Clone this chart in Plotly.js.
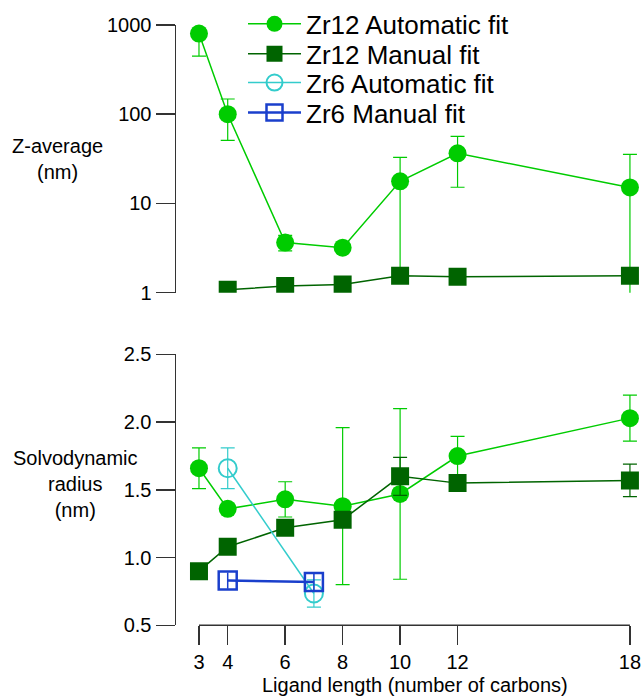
<!DOCTYPE html>
<html>
<head>
<meta charset="utf-8">
<script src="https://cdn.plot.ly/plotly-3.0.1.min.js"></script>
<style>html,body{margin:0;padding:0;background:#fff;}#chart{width:643px;height:698px;}</style>
</head>
<body>
<div id="chart"></div>
<script>
// ---- data ----
var ligandLength = [3, 4, 6, 8, 10, 12, 18];

// Z-average (nm), top panel
var zavgAuto = [800, 100, 3.65, 3.2, 17.7, 36.5, 15.1];
var zavgAutoErrPlus = [340, 48, 0.75, 0, 15.2, 20, 20.4];
var zavgAutoErrMinus = [353, 49, 0.7, 0, 16.2, 21.3, 14.2];
var zavgManual = [null, 1.08, 1.19, 1.24, 1.55, 1.51, 1.55];

// Solvodynamic radius (nm), bottom panel
var radAuto = [1.66, 1.36, 1.43, 1.38, 1.47, 1.75, 2.03];
var radAutoErr = [0.15, 0, 0.13, 0.58, 0.63, 0.145, 0.17];
var radManual = [0.9, 1.08, 1.22, 1.28, 1.6, 1.55, 1.57];
var radManualErr = [0, 0, 0, 0, 0.14, 0, 0.12];

var zr6Length = [4, 7];
var zr6Auto = [1.66, 0.735];
var zr6AutoErr = [0.15, 0.10];
var zr6Manual = [0.83, 0.82];
var zr6ManualErr = [0.06, 0.06];

var seriesNames = ['Zr12 Automatic fit', 'Zr12 Manual fit', 'Zr6 Automatic fit', 'Zr6 Manual fit'];
var xTickVals = [3, 4, 6, 8, 10, 12, 18];
var topTickVals = [1, 10, 100, 1000];
var topTickText = ['1', '10', '100', '1000'];
var bottomTickVals = [0.5, 1.0, 1.5, 2.0, 2.5];

// ---- styling ----
var cAuto = '#00cc00', cManual = '#006400', cZr6A = '#33cccc', cZr6M = '#1a3fcc';
var FONT = 'Liberation Sans, Arial, sans-serif';
var W = 643, H = 698, ML = 176, MR = 2;
function py(p) { return 1 - p / H; }
function px(p) { return (p - ML) / (W - ML - MR); }

var traces = [
  {
    x: ligandLength, y: zavgAuto, xaxis: 'x', yaxis: 'y', type: 'scatter', mode: 'lines+markers',
    name: seriesNames[0], legendgroup: 'a', legend: 'legend', cliponaxis: false,
    line: {color: cAuto, width: 1.5},
    marker: {symbol: 'circle', size: 18, color: cAuto},
    error_y: {type: 'data', symmetric: false, array: zavgAutoErrPlus, arrayminus: zavgAutoErrMinus,
              color: cAuto, thickness: 1.2, width: 7}
  },
  {
    x: ligandLength, y: zavgManual, xaxis: 'x', yaxis: 'y', type: 'scatter', mode: 'lines+markers',
    name: seriesNames[1], legendgroup: 'b', legend: 'legend2', connectgaps: false,
    line: {color: cManual, width: 1.5},
    marker: {symbol: 'square', size: 18, color: cManual}
  },
  {
    x: ligandLength, y: radAuto, xaxis: 'x2', yaxis: 'y2', type: 'scatter', mode: 'lines+markers',
    name: seriesNames[0], legendgroup: 'a', showlegend: false,
    line: {color: cAuto, width: 1.5},
    marker: {symbol: 'circle', size: 18, color: cAuto},
    error_y: {type: 'data', array: radAutoErr, color: cAuto, thickness: 1.2, width: 7}
  },
  {
    x: ligandLength, y: radManual, xaxis: 'x2', yaxis: 'y2', type: 'scatter', mode: 'lines+markers',
    name: seriesNames[1], legendgroup: 'b', showlegend: false,
    line: {color: cManual, width: 1.5},
    marker: {symbol: 'square', size: 18, color: cManual},
    error_y: {type: 'data', array: radManualErr, color: cManual, thickness: 1.2, width: 7}
  },
  {
    x: zr6Length, y: zr6Auto, xaxis: 'x2', yaxis: 'y2', type: 'scatter', mode: 'lines+markers',
    name: seriesNames[2], legendgroup: 'c', legend: 'legend3',
    line: {color: cZr6A, width: 1.5},
    marker: {symbol: 'circle-open', size: 18, color: cZr6A, line: {width: 2, color: cZr6A}},
    error_y: {type: 'data', array: zr6AutoErr, color: cZr6A, thickness: 1.2, width: 7}
  },
  {
    x: zr6Length, y: zr6Manual, xaxis: 'x2', yaxis: 'y2', type: 'scatter', mode: 'lines+markers',
    name: seriesNames[3], legendgroup: 'd', legend: 'legend4',
    line: {color: cZr6M, width: 2.5},
    marker: {symbol: 'square-open', size: 18, color: cZr6M, line: {width: 2.5, color: cZr6M}},
    error_y: {type: 'data', array: zr6ManualErr, color: cZr6M, thickness: 1.5, width: 0}
  }
];

var axisLine = '#333333';
var tickFont = {family: FONT, size: 20, color: '#000'};
var xr = [2.2, 18.385];

function legendAt(cy) {
  return {
    x: px(243), y: py(cy), xanchor: 'left', yanchor: 'middle',
    bgcolor: 'rgba(0,0,0,0)', borderwidth: 0,
    font: {family: FONT, size: 26, color: '#000'},
    tracegroupgap: 0, itemwidth: 53
  };
}

var layout = {
  width: W, height: H,
  margin: {l: ML, r: MR, t: 0, b: 0, pad: 0},
  paper_bgcolor: '#ffffff', plot_bgcolor: 'rgba(0,0,0,0)',
  font: {family: FONT, size: 20, color: '#000'},
  showlegend: true,
  legend: legendAt(21),
  legend2: legendAt(51),
  legend3: legendAt(80),
  legend4: legendAt(110),
  xaxis: {
    domain: [0, 1], range: xr, anchor: 'y', visible: false, matches: 'x2'
  },
  yaxis: {
    domain: [py(291), py(22)], type: 'log', range: [0, 3], anchor: 'x',
    tickvals: topTickVals, ticktext: topTickText,
    showline: true, linecolor: axisLine, linewidth: 1.5,
    ticks: 'outside', ticklen: 19, tickwidth: 1.5, tickcolor: axisLine,
    showgrid: false, zeroline: false, tickfont: tickFont
  },
  xaxis2: {
    domain: [0, 1], range: xr, anchor: 'y2',
    tickvals: xTickVals, ticks: 'outside', ticklen: 19, tickwidth: 1.5, tickcolor: axisLine,
    showline: false, showgrid: false, zeroline: false, tickfont: tickFont
  },
  yaxis2: {
    domain: [py(625), py(353)], range: [0.5, 2.5], anchor: 'x2',
    tickvals: bottomTickVals, tickformat: '.1f',
    showline: true, linecolor: axisLine, linewidth: 1.5,
    ticks: 'outside', ticklen: 19, tickwidth: 1.5, tickcolor: axisLine,
    showgrid: false, zeroline: false, tickfont: tickFont
  },
  shapes: [
    {type: 'line', xref: 'x2', yref: 'y2 domain', x0: xTickVals[0], x1: xTickVals[xTickVals.length - 1],
     y0: 0, y1: 0, line: {color: axisLine, width: 1.5}, layer: 'above'}
  ],
  annotations: [
    {text: 'Z-average<br>(nm)', xref: 'paper', yref: 'paper', x: px(57), y: py(157),
     xanchor: 'center', yanchor: 'middle', showarrow: false, align: 'center',
     font: {family: FONT, size: 20, color: '#000'}},
    {text: 'Solvodynamic<br>radius<br>(nm)', xref: 'paper', yref: 'paper', x: px(75), y: py(483),
     xanchor: 'center', yanchor: 'middle', showarrow: false, align: 'center',
     font: {family: FONT, size: 20, color: '#000'}},
    {text: 'Ligand length (number of carbons)', xref: 'paper', yref: 'paper', x: px(415), y: py(685),
     xanchor: 'center', yanchor: 'middle', showarrow: false,
     font: {family: FONT, size: 20, color: '#000'}}
  ]
};

Plotly.newPlot('chart', traces, layout, {displayModeBar: false, staticPlot: true});
</script>
</body>
</html>
